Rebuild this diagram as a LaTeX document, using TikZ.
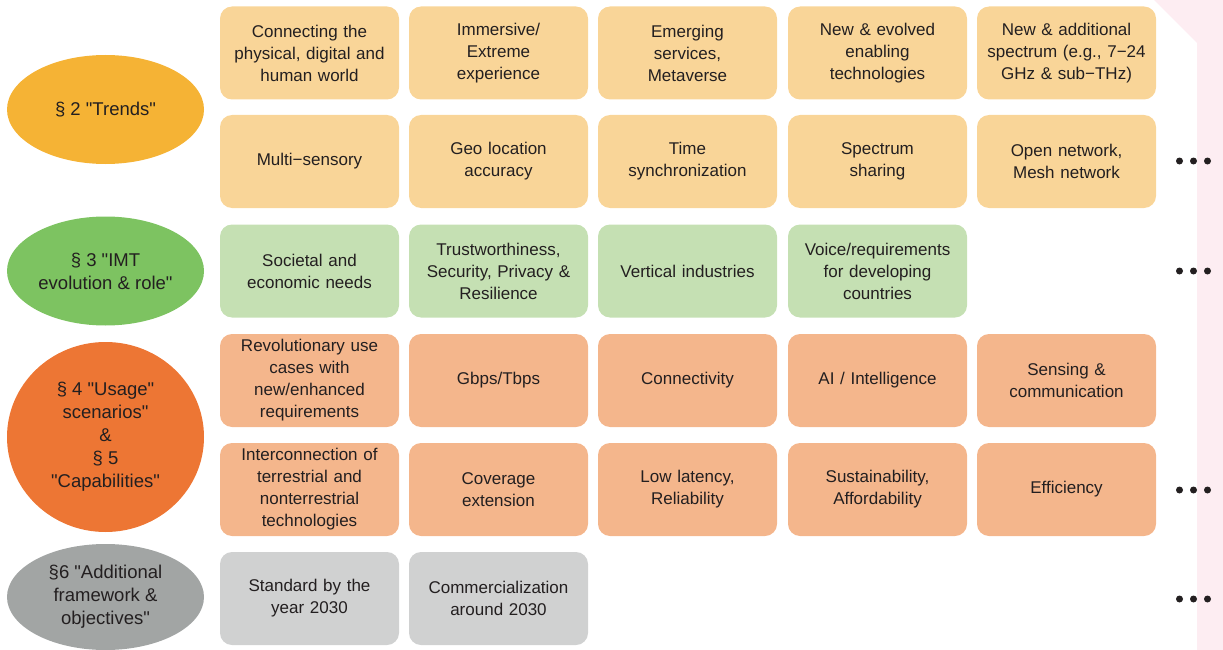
\documentclass[tikz,border=0pt]{standalone}
\usepackage{fontspec}
\setmainfont{Liberation Sans}[Ligatures=TeXOff]
\usetikzlibrary{shapes.geometric}
\definecolor{trbox}{RGB}{249,213,152}
\definecolor{trell}{RGB}{245,179,53}
\definecolor{grbox}{RGB}{197,224,179}
\definecolor{grell}{RGB}{125,195,97}
\definecolor{orbox}{RGB}{244,182,140}
\definecolor{orell}{RGB}{237,118,52}
\definecolor{gybox}{RGB}{208,209,209}
\definecolor{gyell}{RGB}{162,165,164}
\definecolor{pinkbg}{RGB}{253,237,242}
\definecolor{txt}{RGB}{35,31,32}
\tikzset{
  box/.style={rounded corners=12pt, minimum width=179pt, minimum height=93pt,
    text width=170pt, align=center, inner sep=0pt, text=txt,
    font=\fontsize{17}{22}\selectfont},
  sec/.style={ellipse, inner sep=0pt, align=center, text=txt,
    font=\fontsize{18.5}{23}\selectfont},
  dot/.style={circle, fill=txt, inner sep=0pt, minimum size=7pt}
}
\begin{document}
\begin{tikzpicture}[x=1pt,y=-1pt]
\useasboundingbox (0,0) rectangle (1223,650);
\fill[pinkbg] (1154,0) -- (1223,0) -- (1223,650) -- (1197,650) -- (1197,43) -- cycle;
% column centers 309.5 498.5 687.5 877.5 1066.5
% row centers 53 161.5 271 380.5 489.5 598.5
\node[box, fill=trbox] (a1) at (309.5,53) {Connecting the\\physical, digital and\\human world};
\node[box, fill=trbox] (a2) at (498.5,53) {Immersive/\\Extreme\\experience};
\node[box, fill=trbox] (a3) at (687.5,53) {Emerging\\services,\\Metaverse};
\node[box, fill=trbox] (a4) at (877.5,53) {New \& evolved\\enabling\\technologies};
\node[box, fill=trbox] (a5) at (1066.5,53) {New \& additional\\spectrum (e.g., 7−24\\GHz \& sub−THz)};
\node[box, fill=trbox] (b1) at (309.5,161.5) {Multi−sensory};
\node[box, fill=trbox] (b2) at (498.5,161.5) {Geo location\\accuracy};
\node[box, fill=trbox] (b3) at (687.5,161.5) {Time\\synchronization};
\node[box, fill=trbox] (b4) at (877.5,161.5) {Spectrum\\sharing};
\node[box, fill=trbox] (b5) at (1066.5,161.5) {Open network,\\Mesh network};
\node[box, fill=grbox] (c1) at (309.5,271) {Societal and\\economic needs};
\node[box, fill=grbox] (c2) at (498.5,271) {Trustworthiness,\\Security, Privacy \&\\Resilience};
\node[box, fill=grbox] (c3) at (687.5,271) {Vertical industries};
\node[box, fill=grbox] (c4) at (877.5,271) {Voice/requirements\\for developing\\countries};
\node[box, fill=orbox] (d1) at (309.5,380.5) {Revolutionary use\\cases with\\new/enhanced\\requirements};
\node[box, fill=orbox] (d2) at (498.5,380.5) {Gbps/Tbps};
\node[box, fill=orbox] (d3) at (687.5,380.5) {Connectivity};
\node[box, fill=orbox] (d4) at (877.5,380.5) {AI / Intelligence};
\node[box, fill=orbox] (d5) at (1066.5,380.5) {Sensing \&\\communication};
\node[box, fill=orbox] (e1) at (309.5,489.5) {Interconnection of\\terrestrial and\\nonterrestrial\\technologies};
\node[box, fill=orbox] (e2) at (498.5,489.5) {Coverage\\extension};
\node[box, fill=orbox] (e3) at (687.5,489.5) {Low latency,\\Reliability};
\node[box, fill=orbox] (e4) at (877.5,489.5) {Sustainability,\\Affordability};
\node[box, fill=orbox] (e5) at (1066.5,489.5) {Efficiency};
\node[box, fill=gybox] (f1) at (309.5,598.5) {Standard by the\\year 2030};
\node[box, fill=gybox] (f2) at (498.5,598.5) {Commercialization\\around 2030};
% section ellipses
\node[sec, fill=trell, minimum width=197pt, minimum height=109pt] (s2) at (105.5,109.5) {§ 2 "Trends"};
\node[sec, fill=grell, minimum width=197pt, minimum height=109pt] (s3) at (105.5,271) {§ 3 "IMT\\evolution \& role"};
\node[sec, fill=orell, minimum width=197pt, minimum height=190pt] (s45) at (105.5,437) {§ 4 "Usage"\\scenarios"\\\&\\§ 5\\"Capabilities"};
\node[sec, fill=gyell, minimum width=197pt, minimum height=106pt] (s6) at (105.5,597) {§6 "Additional\\framework \&\\objectives"};
% continuation dots
\foreach \r/\y in {1/161,2/271,3/490,4/599}{
  \node[dot] (d\r l) at (1179.5,\y) {};
  \node[dot] (d\r m) at (1193.5,\y) {};
  \node[dot] (d\r r) at (1207.5,\y) {};
}
\end{tikzpicture}
\end{document}
